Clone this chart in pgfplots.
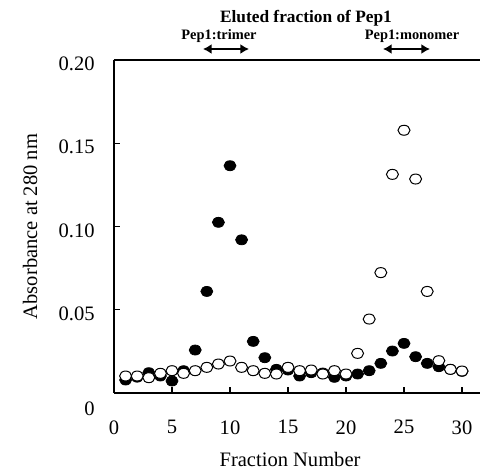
\documentclass[border=0pt]{standalone}
\usepackage{pgfplots}
\pgfplotsset{compat=1.18}
\usepackage{pgfplotstable}
\usepackage{fontspec}
\setmainfont{Liberation Serif}
\usetikzlibrary{arrows.meta}

\pgfplotstableread{
x y
1 0.0078
2 0.0095
3 0.0122
4 0.0102
5 0.0072
6 0.0134
7 0.0258
8 0.0610
9 0.1025
10 0.1365
11 0.0920
12 0.0310
13 0.0212
14 0.0142
15 0.0138
16 0.0102
17 0.0122
18 0.0120
19 0.0094
20 0.0102
21 0.0114
22 0.0134
23 0.0178
24 0.0252
25 0.0298
26 0.0218
27 0.0178
28 0.0158
29 0.0142
30 0.0130
}\filled

\pgfplotstableread{
x y
1 0.0102
2 0.0102
3 0.0092
4 0.0118
5 0.0134
6 0.0118
7 0.0134
8 0.0154
9 0.0174
10 0.0192
11 0.0154
12 0.0134
13 0.0118
14 0.0114
15 0.0154
16 0.0134
17 0.0138
18 0.0114
19 0.0134
20 0.0114
21 0.0238
22 0.0444
23 0.0723
24 0.1313
25 0.1578
26 0.1285
27 0.0610
28 0.0194
29 0.0142
30 0.0132
}\opened

\begin{document}
\begin{tikzpicture}
\begin{axis}[
  scale only axis, width=274.5pt, height=249.75pt,
  xmin=0, xmax=31.55, ymin=0, ymax=0.2,
  axis x line*=box, axis y line*=left,
  axis line style={-, line width=1pt, black},
  xtick={0,5,...,30},
  ytick={0.05,0.1,0.15,0.2}, yticklabels={0.05,0.10,0.15,0.20},
  extra y ticks={0}, extra y tick labels={0},
  extra y tick style={yticklabel style={yshift=-9pt}},
  xtick pos=lower, ytick pos=lower,
  tick align=inside, major tick length=4.5pt,
  tick style={black, line width=0.8pt},
  /pgf/number format/assume math mode=true,
  ticklabel style={font=\fontsize{15.4}{18}\selectfont},
  yticklabel style={xshift=-11pt, yshift=-3pt},
  xticklabel style={yshift=-17pt},
  xlabel={Fraction Number},
  ylabel={Absorbance at 280 nm},
  label style={font=\fontsize{15.4}{18}\selectfont},
  xlabel style={at={(rel axis cs:0.481,0)}, anchor=center, yshift=-49.5pt},
  ylabel style={at={(rel axis cs:-0.2295,0.5)}, anchor=center},
  clip=false,
]
\addplot[only marks, mark=*, mark size=3.75pt, mark options={xscale=1.2, fill=black, draw=black, line width=0.6pt}] table[x=x,y=y]{\filled};
\addplot[only marks, mark=*, mark size=3.75pt, mark options={xscale=1.2, fill=white, draw=black, line width=0.75pt}] table[x=x,y=y]{\opened};
\node[font=\bfseries\fontsize{13}{15}\selectfont] at (axis cs:16.55,0.2252) {Eluted fraction of Pep1};
\node[font=\bfseries\fontsize{10.8}{13}\selectfont] at (axis cs:9.05,0.2144) {Pep1:trimer};
\node[font=\bfseries\fontsize{10.8}{13}\selectfont] at (axis cs:25.69,0.2144) {Pep1:monomer};
\draw[line width=2.2pt, {Latex[length=6.5pt,width=7.5pt]}-{Latex[length=6.5pt,width=7.5pt]}] (axis cs:7.67,0.2066) -- (axis cs:11.64,0.2066);
\draw[line width=2.2pt, {Latex[length=6.5pt,width=7.5pt]}-{Latex[length=6.5pt,width=7.5pt]}] (axis cs:23.19,0.2066) -- (axis cs:27.24,0.2066);
\end{axis}
\pgfresetboundingbox
\useasboundingbox (-85.5pt,-57.75pt) rectangle (274.5pt,294.75pt);
\end{tikzpicture}
\end{document}
